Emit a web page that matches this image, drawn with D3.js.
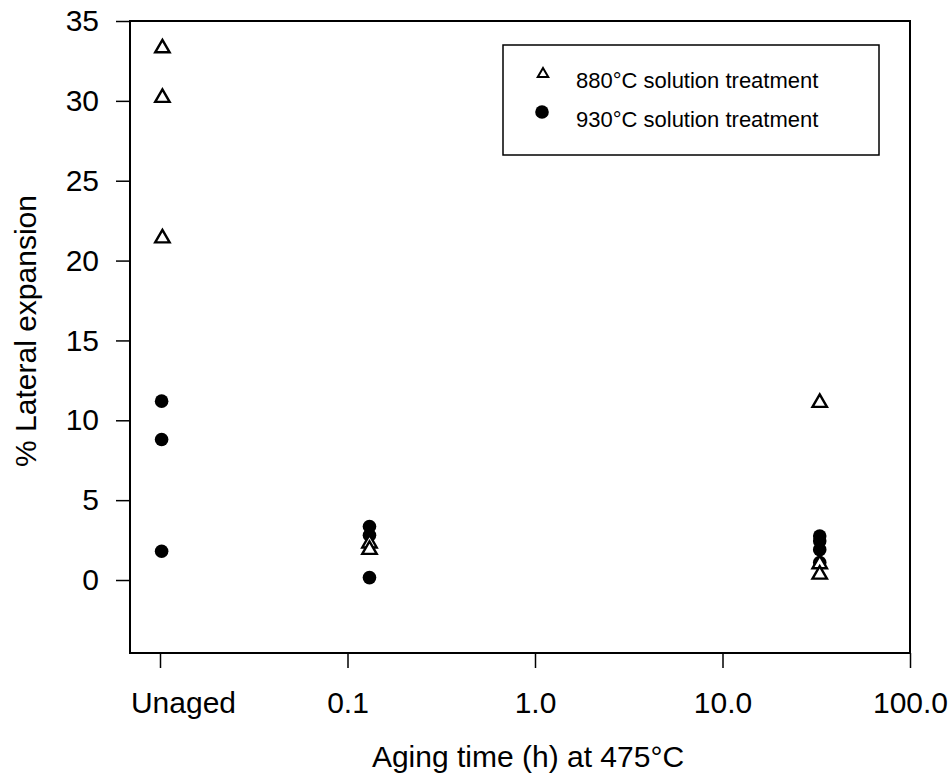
<!DOCTYPE html>
<html>
<head>
<meta charset="utf-8">
<script src="https://cdn.jsdelivr.net/npm/d3@7"></script>
<style>
  html, body { margin: 0; padding: 0; background: #fff; }
  svg { display: block; font-family: "Liberation Sans", Arial, sans-serif; }
</style>
</head>
<body>
<svg id="chart" width="949" height="778"></svg>
<script>
// ---- data ----
const xTickValues = [0.01, 0.1, 1, 10, 100];
const xTickLabels = ["Unaged", "0.1", "1.0", "10.0", "100.0"];
const yTickValues = [0, 5, 10, 15, 20, 25, 30, 35];

// 880°C solution treatment (open triangles): [aging time, % lateral expansion]
const series880 = [
  [0.0103, 33.3], [0.0103, 30.2], [0.0103, 21.4],
  [0.131, 2.3], [0.131, 1.9],
  [33, 11.1], [33, 1.0], [33, 0.35]
];
// 930°C solution treatment (filled circles)
const series930 = [
  [0.0102, 11.2], [0.0102, 8.8], [0.0102, 1.8],
  [0.131, 3.35], [0.131, 2.8], [0.131, 0.15],
  [33, 2.75], [33, 2.45], [33, 1.9], [33, 1.1]
];
const legendLabels = ["880\u00B0C solution treatment", "930\u00B0C solution treatment"];
const xTitle = "Aging time (h) at 475\u00B0C";
const yTitle = "% Lateral expansion";

// ---- layout ----
const svg = d3.select("#chart");
const frame = { left: 130, right: 910, top: 21, bottom: 653 };

const x = d3.scaleLog().domain([0.01, 100]).range([160, 910]);
const y = d3.scaleLinear().domain([-4.57, 35]).range([frame.bottom, frame.top]);

// frame
svg.append("rect")
  .attr("x", frame.left).attr("y", frame.top)
  .attr("width", frame.right - frame.left).attr("height", frame.bottom - frame.top)
  .attr("fill", "none").attr("stroke", "#000").attr("stroke-width", 2);

// x axis
const xAxis = d3.axisBottom(x)
  .tickValues(xTickValues)
  .tickFormat((d, i) => xTickLabels[i])
  .tickSizeInner(15).tickSizeOuter(0).tickPadding(24);
const gx = svg.append("g").attr("transform", `translate(0,${frame.bottom})`).call(xAxis);
gx.select(".domain").remove();
gx.selectAll(".tick line").attr("stroke", "#000").attr("stroke-width", 1.5);
gx.selectAll(".tick text").attr("fill", "#000").style("font-size", "30px")
  .style("font-family", "'Liberation Sans', Arial, sans-serif")
  .attr("dx", (d, i) => i === 0 ? 23 : 0);

// y axis
const yAxis = d3.axisLeft(y)
  .tickValues(yTickValues)
  .tickFormat(d3.format("d"))
  .tickSizeInner(14).tickSizeOuter(0).tickPadding(17);
const gy = svg.append("g").attr("transform", `translate(${frame.left},0)`).call(yAxis);
gy.select(".domain").remove();
gy.selectAll(".tick line").attr("stroke", "#000").attr("stroke-width", 1.5);
gy.selectAll(".tick text").attr("fill", "#000").style("font-size", "30px")
  .style("font-family", "'Liberation Sans', Arial, sans-serif");

// titles
svg.append("text")
  .attr("x", 528).attr("y", 767)
  .attr("text-anchor", "middle")
  .style("font-size", "30px")
  .text(xTitle);
svg.append("text")
  .attr("transform", "translate(36,331) rotate(-90)")
  .attr("text-anchor", "middle")
  .style("font-size", "30px")
  .text(yTitle);

// markers
const tri = d3.symbol().type(d3.symbolTriangle).size(90);
const triSmall = d3.symbol().type(d3.symbolTriangle).size(48);

svg.append("g").selectAll("circle")
  .data(series930).join("circle")
  .attr("cx", d => x(d[0])).attr("cy", d => y(d[1]))
  .attr("r", 6.8).attr("fill", "#000");

svg.append("g").selectAll("path")
  .data(series880).join("path")
  .attr("d", tri)
  .attr("transform", d => `translate(${x(d[0])},${y(d[1])})`)
  .attr("fill", "#fff").attr("stroke", "#000").attr("stroke-width", 2.4)
  .attr("stroke-linejoin", "miter");

// legend
const lg = svg.append("g");
lg.append("rect")
  .attr("x", 503).attr("y", 45).attr("width", 376).attr("height", 110)
  .attr("fill", "#fff").attr("stroke", "#000").attr("stroke-width", 1.5);
lg.append("path").attr("d", triSmall)
  .attr("transform", "translate(543,74)")
  .attr("fill", "#fff").attr("stroke", "#000").attr("stroke-width", 2);
lg.append("circle").attr("cx", 542).attr("cy", 112).attr("r", 6.8).attr("fill", "#000");
lg.selectAll("text.lbl")
  .data(legendLabels).join("text")
  .attr("class", "lbl")
  .attr("x", 576).attr("y", (d, i) => 88 + i * 39)
  .style("font-size", "22px")
  .text(d => d);
</script>
</body>
</html>
